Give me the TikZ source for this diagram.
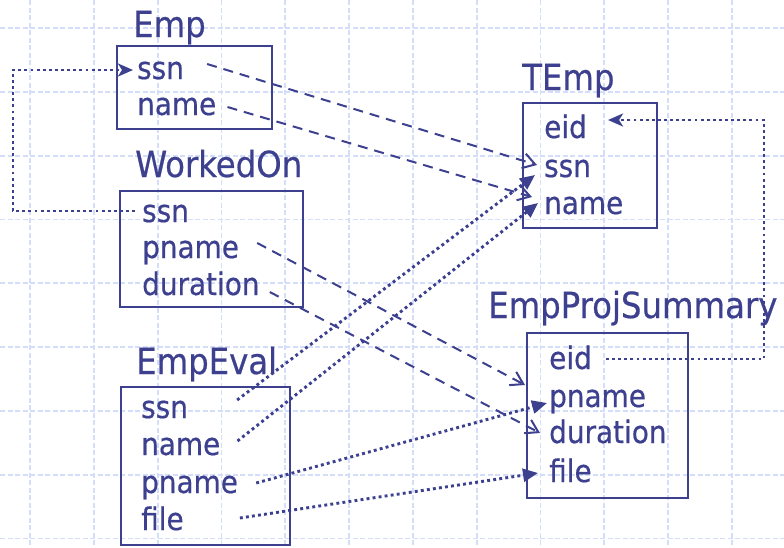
\documentclass[tikz,border=0pt]{standalone}
\usepackage{fontspec}
\setmainfont[FakeBold=0.5]{DejaVu Sans Condensed}
\usetikzlibrary{arrows.meta}
\definecolor{ink}{RGB}{60,64,142}
\definecolor{gridblue}{RGB}{212,222,250}
\tikzset{
  gridline/.style={draw=gridblue,line width=1.8pt,dash pattern=on 5pt off 2.5pt},
  tbl/.style={draw=ink,line width=2.2pt},
  title/.style={anchor=base west,inner sep=0pt,text=ink,font=\fontsize{36}{42}\selectfont},
  attr/.style={anchor=base west,inner sep=0pt,text=ink,text height=22pt,text depth=6pt,font=\fontsize{31}{36}\selectfont},
  copyline/.style={draw=ink,line width=2pt,dash pattern=on 10pt off 7pt,-{Straight Barb[length=12pt,width=15pt]}},
  evalline/.style={draw=ink,line width=2.9pt,dash pattern=on 2.9pt off 3.2pt,-{Triangle[length=15pt,width=13pt]}},
  keyline/.style={draw=ink,line width=2.9pt,dash pattern=on 2.9pt off 3.2pt,-{Stealth[length=15pt,width=13pt,inset=4pt]}}
}
\begin{document}
\begin{tikzpicture}[x=1pt,y=-1pt]
\path[use as bounding box] (0,0) rectangle (784,547);
\foreach \i in {0,...,11} \draw[gridline] ({30+63.8*\i},0) -- ++(0,547);
\foreach \j in {0,...,8} \draw[gridline] (0,{28+63.8*\j}) -- ++(784,0);
% Emp
\node[title] (emp) at (133,37) {Emp};
\draw[tbl] (117,46) rectangle (272,129);
\node[attr] (essn) at (137,79) {ssn};
\node[attr] (ename) at (137,115) {name};
% WorkedOn
\node[title] (worked) at (135,177) {WorkedOn};
\draw[tbl] (120,191) rectangle (303,307);
\node[attr] (wssn) at (142,222) {ssn};
\node[attr] (wpname) at (142,258) {pname};
\node[attr] (wdur) at (142,295) {duration};
% EmpEval
\node[title] (eval) at (136,374) {EmpEval};
\draw[tbl] (121,387) rectangle (290,545);
\node[attr] (vssn) at (141,418) {ssn};
\node[attr] (vname) at (141,455) {name};
\node[attr] (vpname) at (141,493) {pname};
\node[attr] (vfile) at (141,530) {file};
% TEmp
\node[title] (temp) at (522,90) {TEmp};
\draw[tbl] (523,103) rectangle (657,228);
\node[attr] (teid) at (544,138) {eid};
\node[attr] (tssn) at (544,177) {ssn};
\node[attr] (tname) at (544,214) {name};
% EmpProjSummary
\node[title] (summary) at (488,318) {EmpProjSummary};
\draw[tbl] (527,333) rectangle (688,498);
\node[attr] (peid) at (549,369) {eid};
\node[attr] (ppname) at (549,407) {pname};
\node[attr] (pdur) at (549,443) {duration};
\node[attr] (pfile) at (549,482) {file};
% keys
\draw[keyline] ([xshift=-7pt,yshift=3pt]wssn.west) -- ([xshift=-129pt,yshift=3pt]wssn.west) |- ([xshift=-4pt,yshift=1pt]essn.west);
\draw[keyline] ([xshift=14pt,yshift=2pt]peid.east) -| ([xshift=177pt,yshift=10pt]teid.east) -- ([xshift=21pt,yshift=10pt]teid.east);
% copied columns
\draw[copyline] ([xshift=23pt,yshift=7pt]essn.east) -- ([xshift=-7pt,yshift=4pt]tssn.west);
\draw[copyline] ([xshift=11pt]ename.east) -- ([xshift=-12pt,yshift=9pt]tname.west);
\draw[copyline] ([xshift=18pt,yshift=7pt]wpname.east) -- ([xshift=-24pt,yshift=14pt]ppname.west);
\draw[copyline] ([xshift=10pt,yshift=-5pt]wdur.east) -- ([xshift=-9pt,yshift=2pt]pdur.west);
% joined from EmpEval
\draw[evalline] ([xshift=49pt,yshift=10pt]vssn.east) -- ([xshift=-9pt,yshift=-6pt]tssn.west);
\draw[evalline] ([xshift=17pt,yshift=6pt]vname.east) -- ([xshift=-6pt,yshift=3pt]tname.west);
\draw[evalline] ([xshift=18pt,yshift=2pt]vpname.east) -- ([xshift=-2pt,yshift=-4pt]ppname.west);
\draw[evalline] ([xshift=56pt,yshift=4pt]vfile.east) -- ([xshift=-11pt,yshift=1pt]pfile.west);
\end{tikzpicture}
\end{document}
